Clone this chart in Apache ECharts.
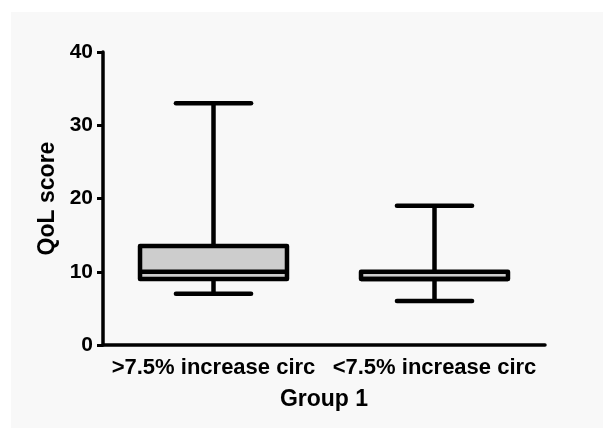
<!DOCTYPE html>
<html>
<head>
<meta charset="utf-8">
<script src="https://cdn.jsdelivr.net/npm/echarts@6/dist/echarts.min.js"></script>
<style>html,body{margin:0;padding:0;background:#fff;}#c{width:603px;height:428px;}</style>
</head>
<body>
<div id="c"></div>
<script>
const categories = ['>7.5% increase circ', '<7.5% increase circ'];
// [min, Q1, median, Q3, max]
const boxValues = [
  [7, 9, 10, 13.5, 33],
  [6, 9, 9, 10, 19]
];
const yTicks = { min: 0, max: 40, interval: 10 };
const yName = 'QoL score';
const xName = 'Group 1';

const FONT = 'Liberation Sans';
const chart = echarts.init(document.getElementById('c'), null, { renderer: 'canvas' });

const seriesData = boxValues.map((v, i) => [i].concat(v));

function renderItem(params, api) {
  const idx = api.value(0);
  const mn = api.coord([idx, api.value(1)]);
  const q1 = api.coord([idx, api.value(2)]);
  const md = api.coord([idx, api.value(3)]);
  const q3 = api.coord([idx, api.value(4)]);
  const mx = api.coord([idx, api.value(5)]);
  const band = api.size([1, 0])[0];
  const bw = band * 0.665;
  const cw = band * 0.34;
  const cx = md[0];
  const lw = 4.5;
  const ls = { stroke: '#000', lineWidth: lw, lineCap: 'butt' };
  return {
    type: 'group',
    children: [
      { type: 'line', shape: { x1: cx, y1: q3[1], x2: cx, y2: mx[1] }, style: ls },
      { type: 'line', shape: { x1: cx, y1: q1[1], x2: cx, y2: mn[1] }, style: ls },
      { type: 'line', shape: { x1: cx - cw / 2, y1: mx[1], x2: cx + cw / 2, y2: mx[1] }, style: Object.assign({}, ls, { lineCap: 'round' }) },
      { type: 'line', shape: { x1: cx - cw / 2, y1: mn[1], x2: cx + cw / 2, y2: mn[1] }, style: Object.assign({}, ls, { lineCap: 'round' }) },
      { type: 'rect', shape: { x: cx - bw / 2, y: q3[1], width: bw, height: q1[1] - q3[1] }, style: { fill: '#cdcdcd', stroke: '#000', lineWidth: lw, lineJoin: 'round' } },
      { type: 'line', shape: { x1: cx - bw / 2, y1: md[1], x2: cx + bw / 2, y2: md[1] }, style: ls }
    ]
  };
}

const labelStyle = { color: '#000', fontFamily: FONT, fontWeight: 'bold' };

chart.setOption({
  backgroundColor: '#ffffff',
  animation: false,
  graphic: [{
    type: 'rect', left: 11, top: 12, silent: true, z: -100,
    shape: { width: 600, height: 420 },
    style: { fill: '#f8f8f8' }
  }],
  grid: { left: 103, right: 58, top: 52, bottom: 83 },
  xAxis: {
    type: 'category',
    data: categories,
    name: xName,
    nameLocation: 'middle',
    nameGap: 43,
    nameTextStyle: Object.assign({ fontSize: 23 }, labelStyle),
    axisLine: { lineStyle: { color: '#000', width: 3.5 } },
    axisTick: { alignWithLabel: true, length: 6, lineStyle: { color: '#000', width: 3 } },
    axisLabel: Object.assign({ fontSize: 22, margin: 12, interval: 0 }, labelStyle),
    splitLine: { show: false }
  },
  yAxis: {
    type: 'value',
    min: yTicks.min, max: yTicks.max, interval: yTicks.interval,
    name: yName,
    nameLocation: 'middle',
    nameGap: 44,
    nameTextStyle: Object.assign({ fontSize: 23 }, labelStyle),
    axisLine: { show: true, lineStyle: { color: '#000', width: 3.5 } },
    axisTick: { show: true, length: 6, lineStyle: { color: '#000', width: 3 } },
    axisLabel: Object.assign({ fontSize: 21, margin: 10 }, labelStyle),
    splitLine: { show: false }
  },
  series: [{
    type: 'custom',
    renderItem: renderItem,
    encode: { x: 0, y: [1, 2, 3, 4, 5] },
    data: seriesData,
    clip: false
  }]
});
</script>
</body>
</html>
